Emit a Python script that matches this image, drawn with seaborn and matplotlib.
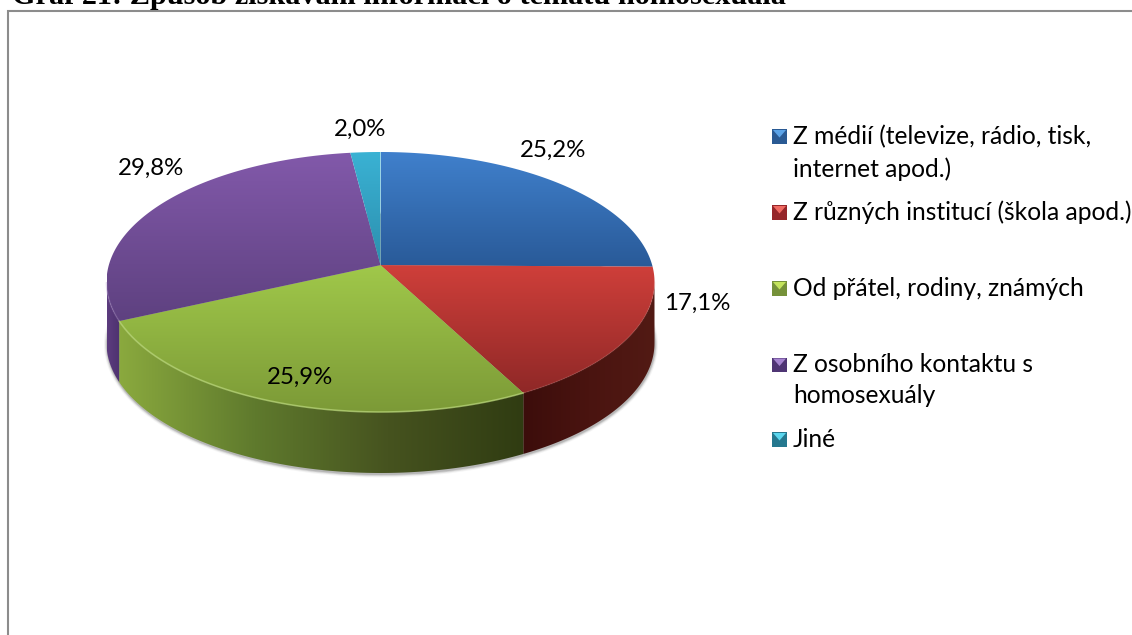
import numpy as np
import seaborn as sns
import matplotlib.pyplot as plt
from matplotlib.patches import Polygon, Ellipse

TITLE = "Graf 21: Způsob získávání informací o tématu homosexuála"

shares = [25.2, 17.1, 25.9, 29.8, 2.0]
share_labels = ["25,2%", "17,1%", "25,9%", "29,8%", "2,0%"]
legend_lines = [
    ["Z médií (televize, rádio, tisk,", "internet apod.)"],
    ["Z různých institucí (škola apod.)"],
    ["Od přátel, rodiny, známých"],
    ["Z osobního kontaktu s", "homosexuály"],
    ["Jiné"],
]

top_light = ["#4080cc", "#cf3f3a", "#a0c84a", "#8259aa", "#3ab2d4"]
top_dark = ["#295a98", "#8f2827", "#7c9a37", "#5e4180", "#2c8fae"]
wall_stops = [
    ["#1d3f6c", "#1d3f6c"],
    ["#3c0d0b", "#4a1410", "#521a14"],
    ["#8aa93e", "#5f7a2d", "#46531f", "#303c12"],
    ["#5c3c7e", "#4e3270"],
    ["#1f6a80", "#1f6a80"],
]
rim_alpha = [0.0, 0.15, 0.7, 0.3, 0.0]
swatch_dark = ["#2a5a94", "#96262a", "#76923a", "#4f3574", "#25788f"]
swatch_light = ["#5ba3e8", "#f06a62", "#c4e45c", "#a583d0", "#5ad6ee"]

# geometry of the tilted disc, in pixels
CX, CY = 380.5, 282.0
RX, RY = 274.0, 130.0
DEPTH = 61.0
TILT = 0.13

label_pos = [(553, 157), (697, 310), (300, 384), (151, 175), (360, 136)]
legend_swatch_y = [136.5, 212.5, 288.5, 365, 439.5]
legend_baselines = [[144, 177], [220], [296], [372, 403], [447]]


def project(theta):
    # clockwise angle from 12 o'clock -> pixel on the tilted disc
    u, v = np.sin(theta), np.cos(theta)
    w = 1 + TILT * v
    x = u * np.sqrt(1 - TILT**2) / w
    y = (v + TILT) / w
    return CX + RX * x, CY - RY * y


def gradient_fill(ax, verts, stops, horizontal=False, zorder=2):
    poly = Polygon(verts, closed=True, facecolor="none", edgecolor="none",
                   transform=ax.transData)
    ax.add_patch(poly)
    colors = np.array(sns.blend_palette(stops, 128))
    if horizontal:
        img = colors[np.newaxis, :, :]
    else:
        img = colors[:, np.newaxis, :]
    xs, ys = verts[:, 0], verts[:, 1]
    im = ax.imshow(img, extent=(xs.min(), xs.max(), ys.max(), ys.min()),
                   aspect="auto", interpolation="bilinear", zorder=zorder)
    im.set_clip_path(poly)


sns.set_theme(style="white")
plt.rcParams["font.family"] = ["Lato", "DejaVu Sans"]

fig = plt.figure(figsize=(11.32, 6.35), dpi=100)
ax = fig.add_axes([0, 0, 1, 1])
ax.set_axis_off()

# outer frame, runs off the bottom and right of the page
ax.plot([8, 8, 1132], [635, 11, 11], color="#8c8c8c", lw=1.5, zorder=1,
        solid_joinstyle="miter")

# soft shadow under the disc
for grow, alpha in [(6, 0.06), (4, 0.10), (2.5, 0.14), (1, 0.20)]:
    ax.add_patch(Ellipse((CX + 0.5, CY + DEPTH + 1.5), 2 * RX + grow, 2 * RY + grow,
                         facecolor="#555555", edgecolor="none", alpha=alpha, zorder=1.5))

edges = np.cumsum([0] + shares) / 100 * 2 * np.pi
apex_x, apex_y = CX, CY - RY * TILT
for i in range(len(shares)):
    th = np.linspace(edges[i], edges[i + 1], 200)
    px, py = project(th)

    # side wall: only the part of the rim facing the viewer
    front = py >= CY
    if front.any():
        wx, wy = px[front], py[front]
        wall = np.vstack([np.c_[wx, wy], np.c_[wx, wy + DEPTH][::-1]])
        gradient_fill(ax, wall, wall_stops[i], horizontal=True, zorder=2)

    # top face
    face = np.vstack([[apex_x, apex_y], np.c_[px, py]])
    gradient_fill(ax, face, [top_light[i], top_dark[i]], zorder=3)

    # bevel on the rim
    if front.any() and rim_alpha[i] > 0:
        ax.plot(px[front], py[front], color=sns.blend_palette([top_light[i], "#ffffff"], 5)[1],
                lw=1.2, alpha=rim_alpha[i], zorder=4)

    ax.text(label_pos[i][0], label_pos[i][1], share_labels[i], ha="center", va="baseline",
            fontsize=17.3, color="black", zorder=6)

# legend
for i, lines in enumerate(legend_lines):
    yc = legend_swatch_y[i]
    box = np.array([[772, yc - 7.5], [787, yc - 7.5], [787, yc + 7.5], [772, yc + 7.5]])
    gradient_fill(ax, box, [swatch_dark[i], swatch_dark[i]], zorder=5)
    ax.add_patch(Polygon([[773, yc - 6.5], [786, yc - 6.5], [779.5, yc + 1]],
                         closed=True, facecolor=swatch_light[i], edgecolor="none", zorder=6))
    for line, base in zip(lines, legend_baselines[i]):
        ax.text(793, base, line, ha="left", va="baseline", fontsize=17.7, color="black", zorder=6)

ax.text(12, 4, TITLE, ha="left", va="baseline", fontsize=21.8, fontweight="bold",
        family="Liberation Serif", color="black", zorder=6)

ax.set_xlim(0, 1132)
ax.set_ylim(635, 0)

plt.savefig("out.png", dpi=100)
